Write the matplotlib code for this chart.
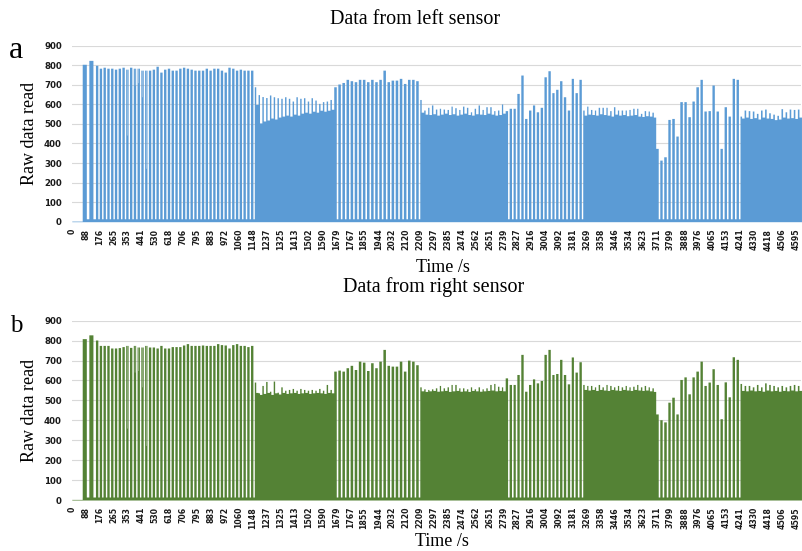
import numpy as np
import matplotlib.pyplot as plt

# pulse runs in seconds, shared by both sensors
# dense runs never drop back to the floor between pulses
run_start = [66, 150, 1158, 1662, 2208, 2750, 3242, 3705, 4240]
run_end = [150, 1158, 1662, 2208, 2750, 3242, 3705, 4240, 4630]
run_dense = [False, False, True, False, True, False, True, False, True]

idle_level = 3   # before the first pulse
gap_level = 15   # between pulses in sparse runs

# left sensor: peak of each pulse, per run
left_1 = [805, 825]
left_2 = [800, 785, 790, 785, 785, 780, 785, 790, 780, 790, 785, 785, 775, 775,
          775, 780, 795, 765, 780, 785, 775, 775, 785, 790, 785, 780, 775, 775,
          775, 785, 775, 785, 785, 775, 765, 790, 785, 775, 780, 775, 775, 775]
left_3 = [690, 650, 640, 635, 648, 639, 634, 631, 639, 631, 617, 639, 631, 634,
          617, 634, 622, 605, 614, 617, 625]
left_4 = [690, 704, 712, 728, 721, 716, 728, 728, 716, 728, 716, 728, 775, 716,
          724, 724, 733, 707, 728, 728, 721]
left_5 = [625, 571, 585, 597, 576, 580, 576, 574, 591, 583, 574, 591, 585, 562,
          580, 597, 574, 588, 588, 568, 571, 602]
left_6 = [568, 580, 580, 656, 750, 528, 571, 597, 562, 585, 741, 772, 660, 677,
          721, 639, 571, 733, 660, 728]
left_7 = [571, 591, 574, 571, 585, 585, 585, 568, 588, 571, 571, 571, 574, 580,
          580, 554, 568, 566, 560]
left_8 = [375, 315, 332, 523, 528, 438, 614, 614, 537, 617, 690, 728, 566, 568,
          699, 566, 375, 588, 540, 733, 728]
left_9 = [540, 571, 568, 566, 554, 571, 576, 557, 550, 544, 578, 562, 576, 574, 576]

# left sensor: level between pulses in the dense runs
left_base_3 = [600, 505, 515, 520, 530, 525, 535, 540, 545, 540, 550, 545, 555,
               560, 555, 565, 560, 570, 565, 570, 575]
left_base_5 = [560, 550, 548, 552, 545, 550, 555, 548, 552, 545, 550, 555, 548,
               545, 552, 550, 548, 555, 550, 545, 548, 555]
left_base_7 = [545, 550, 548, 545, 552, 548, 545, 540, 550, 545, 548, 542, 545,
               548, 540, 538, 542, 540, 535]
left_base_9 = [530, 535, 528, 532, 525, 535, 530, 528, 522, 525, 535, 530, 532,
               528, 535]

# right sensor
right_1 = [810, 829]
right_2 = [803, 776, 776, 776, 763, 763, 765, 770, 776, 766, 776, 768, 768, 776,
           768, 768, 763, 776, 763, 763, 770, 770, 770, 778, 785, 776, 776, 776,
           778, 776, 776, 776, 785, 780, 778, 763, 780, 785, 776, 776, 770, 776]
right_3 = [592, 538, 575, 595, 546, 597, 541, 568, 551, 555, 560, 551, 560, 555,
           551, 555, 551, 560, 551, 580, 555]
right_4 = [647, 652, 647, 664, 676, 655, 697, 692, 650, 689, 664, 697, 756, 676,
           672, 672, 697, 647, 702, 697, 679]
right_5 = [568, 558, 555, 558, 563, 575, 563, 568, 580, 580, 563, 563, 558, 568,
           558, 568, 558, 563, 580, 585, 571, 568]
right_6 = [613, 580, 580, 630, 731, 546, 580, 608, 588, 600, 731, 756, 630, 635,
           706, 630, 583, 718, 642, 694]
right_7 = [580, 575, 575, 568, 580, 568, 580, 575, 568, 575, 568, 575, 568, 571,
           580, 568, 575, 568, 563]
right_8 = [432, 403, 392, 491, 516, 432, 605, 618, 533, 618, 647, 697, 575, 592,
           659, 580, 408, 593, 518, 719, 706]
right_9 = [585, 575, 575, 568, 580, 568, 588, 580, 575, 568, 575, 568, 575, 580, 575]

right_base_3 = [540, 530, 535, 540, 530, 538, 532, 540, 535, 538, 540, 535, 538,
                540, 535, 538, 540, 538, 535, 540, 538]
right_base_5 = [548, 545, 548, 550, 546, 548, 550, 545, 548, 550, 546, 548, 545,
                550, 548, 546, 548, 550, 552, 548, 550, 548]
right_base_7 = [555, 552, 555, 550, 555, 552, 550, 555, 552, 550, 555, 552, 550,
                555, 552, 550, 552, 548, 545]
right_base_9 = [550, 548, 552, 548, 550, 546, 552, 548, 550, 546, 550, 548, 552,
                548, 550]

# short drops inside some pulses of the second run
dip_pulse = [8, 10, 11, 12, 13]
left_dips = [443, 699, 711, 639, 273]
right_dips = [361, 642, 650, 568, 274]

tick_labels = ['0', '88', '176', '265', '353', '441', '530', '618', '706', '795',
               '883', '972', '1060', '1148', '1237', '1325', '1413', '1502',
               '1590', '1679', '1767', '1855', '1944', '2032', '2120', '2209',
               '2297', '2385', '2474', '2562', '2651', '2739', '2827', '2916',
               '3004', '3092', '3181', '3269', '3358', '3446', '3534', '3623',
               '3711', '3799', '3888', '3976', '4065', '4153', '4241', '4330',
               '4418', '4506', '4595']


def build(peaks, bases, dips):
    t = np.arange(0, run_end[-1] + 1)
    y = np.full(t.shape, float(idle_level))
    base_iter = iter(bases)
    for s, e, dense, pk in zip(run_start, run_end, run_dense, peaks):
        period = (e - s) / len(pk)
        base = next(base_iter) if dense else [gap_level] * len(pk)
        on = 0.35 if dense else 0.6
        for k, h in enumerate(pk):
            p0 = s + k * period
            p1 = p0 + on * period
            y[(t >= p0) & (t < p1)] = h
            y[(t >= p1) & (t < p0 + period)] = base[k]
    s, e = run_start[1], run_end[1]
    period = (e - s) / len(peaks[1])
    for k, v in zip(dip_pulse, dips):
        c = s + (k + 0.3) * period
        y[(t >= c - 1) & (t < c + 1)] = v
    return t, y


t_left, y_left = build([left_1, left_2, left_3, left_4, left_5, left_6, left_7, left_8, left_9],
                       [left_base_3, left_base_5, left_base_7, left_base_9], left_dips)
t_right, y_right = build([right_1, right_2, right_3, right_4, right_5, right_6, right_7, right_8, right_9],
                         [right_base_3, right_base_5, right_base_7, right_base_9], right_dips)

W, H = 802, 551
fig = plt.figure(figsize=(W / 100, H / 100), dpi=100)
serif = 'Liberation Serif'


def panel(rect, t, y, color):
    ax = fig.add_axes(rect)
    ax.fill_between(t, y, step='post', color=color, lw=0)
    ax.set_xlim(-2, 4627)
    ax.set_ylim(0, 900)
    ax.set_yticks(range(0, 901, 100))
    ax.set_xticks([int(v) for v in tick_labels])
    ax.set_xticklabels(tick_labels, rotation=90)
    ax.yaxis.grid(True, color='#d9d9d9', lw=0.8)
    ax.set_axisbelow(True)
    for sp in ax.spines.values():
        sp.set_visible(False)
    ax.tick_params(axis='y', length=0, pad=7, labelsize=6.2)
    ax.tick_params(axis='x', length=0, pad=5, labelsize=5.6)
    for lab in ax.get_xticklabels() + ax.get_yticklabels():
        lab.set_fontweight('bold')
        lab.set_color('#1a1a1a')
    return ax


panel([71.5 / W, 1 - 221.7 / H, 729.5 / W, 176 / H], t_left, y_left, '#5b9bd5')
panel([71.5 / W, 1 - 500 / H, 729.5 / W, 179.3 / H], t_right, y_right, '#548235')

fig.text(415 / W, 1 - 20 / H, 'Data from left sensor', family=serif, size=14.5,
         ha='center', va='center')
fig.text(434 / W, 1 - 287 / H, 'Data from right sensor', family=serif, size=14.5,
         ha='center', va='center')
fig.text(9 / W, 1 - 58 / H, 'a', family=serif, size=23, va='baseline')
fig.text(10 / W, 1 - 332 / H, 'b', family=serif, size=18, va='baseline')
fig.text(30 / W, 1 - 133 / H, 'Raw data read', family=serif, size=13,
         rotation=90, ha='center', va='center')
fig.text(30 / W, 1 - 410 / H, 'Raw data read', family=serif, size=13,
         rotation=90, ha='center', va='center')
fig.text(443 / W, 1 - 268 / H, 'Time /s', family=serif, size=13,
         ha='center', va='center')
fig.text(442 / W, 1 - 542 / H, 'Time /s', family=serif, size=13,
         ha='center', va='center')

fig.savefig('out.png', dpi=100)
